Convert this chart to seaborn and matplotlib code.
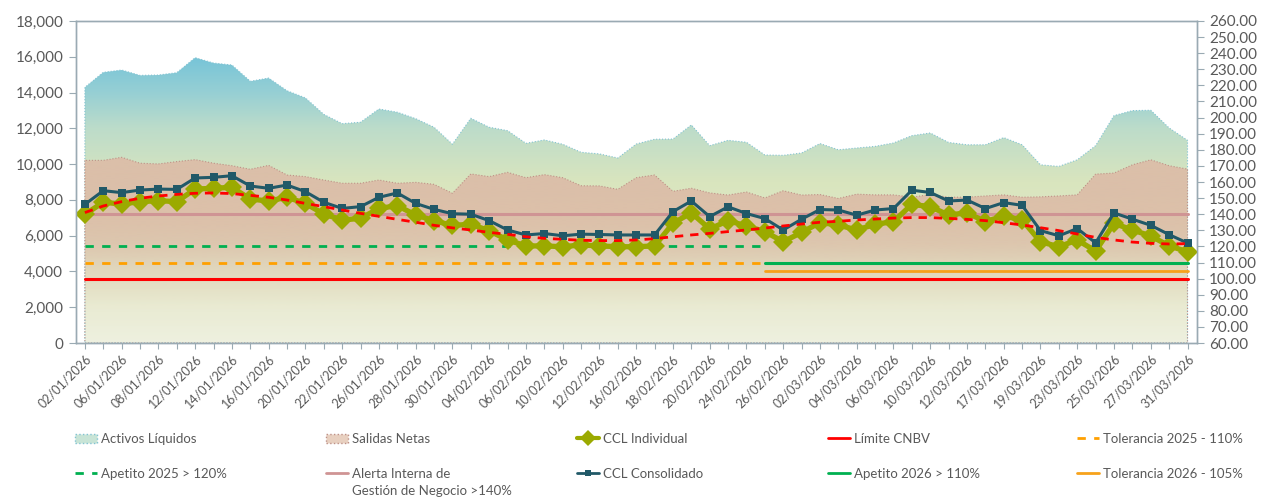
import numpy as np
import pandas as pd
import matplotlib
matplotlib.use("Agg")
import matplotlib.pyplot as plt
import seaborn as sns
from matplotlib.lines import Line2D
from matplotlib.patches import Patch

# ---- datos ----
fechas = [
    "02/01/2026", "05/01/2026", "06/01/2026", "07/01/2026", "08/01/2026", "09/01/2026",
    "12/01/2026", "13/01/2026", "14/01/2026", "15/01/2026", "16/01/2026", "19/01/2026",
    "20/01/2026", "21/01/2026", "22/01/2026", "23/01/2026", "26/01/2026", "27/01/2026",
    "28/01/2026", "29/01/2026", "30/01/2026",
    "03/02/2026", "04/02/2026", "05/02/2026", "06/02/2026", "09/02/2026", "10/02/2026",
    "11/02/2026", "12/02/2026", "13/02/2026", "16/02/2026", "17/02/2026", "18/02/2026",
    "19/02/2026", "20/02/2026", "23/02/2026", "24/02/2026", "25/02/2026", "26/02/2026",
    "27/02/2026",
    "02/03/2026", "03/03/2026", "04/03/2026", "05/03/2026", "06/03/2026", "09/03/2026",
    "10/03/2026", "11/03/2026", "12/03/2026", "13/03/2026", "17/03/2026", "18/03/2026",
    "19/03/2026", "20/03/2026", "23/03/2026", "24/03/2026", "25/03/2026", "26/03/2026",
    "27/03/2026", "30/03/2026", "31/03/2026",
]

activos = [14290, 15130, 15260, 14960, 14980, 15110, 15950, 15650, 15540, 14630,
           14810, 14100, 13700, 12780, 12260, 12340, 13080, 12900, 12540, 12060,
           11110, 12560, 12060, 11870, 11160, 11350, 11110, 10660, 10570, 10340,
           11120, 11390, 11400, 12190, 11030, 11330, 11220, 10510, 10490, 10620,
           11150, 10800, 10900, 10990, 11180, 11590, 11740, 11210, 11080, 11080,
           11480, 11080, 9960, 9870, 10240, 11030, 12710, 12990, 13010, 12020,
           11330]

salidas = [10210, 10210, 10380, 10050, 10010, 10140, 10250, 10050, 9910, 9710,
           9930, 9390, 9300, 9110, 8930, 8930, 9110, 8930, 8980, 8870,
           8370, 9450, 9300, 9540, 9240, 9410, 9240, 8790, 8780, 8590,
           9240, 9390, 8480, 8650, 8390, 8270, 8440, 8110, 8510, 8270,
           8300, 8080, 8320, 8280, 8280, 8150, 8300, 8150, 8150, 8220,
           8280, 8150, 8170, 8220, 8280, 9440, 9500, 9960, 10240, 9910,
           9720]

ccl_individual = [139.9, 147.4, 146.3, 147.8, 148.4, 147.8, 155.6, 156.1, 156.7, 149.4,
                  148.2, 150.5, 146.7, 140.1, 136.4, 137.4, 143.6, 145.3, 139.5, 136.0,
                  133.0, 133.8, 129.7, 124.0, 120.3, 120.3, 119.8, 120.9, 120.3, 119.8,
                  119.8, 120.3, 134.3, 140.9, 130.8, 136.0, 132.7, 129.2, 122.9, 128.7,
                  134.8, 133.3, 130.2, 133.7, 135.4, 146.1, 144.7, 139.5, 140.9, 135.4,
                  138.9, 136.4, 122.9, 119.8, 124.0, 117.1, 134.3, 130.2, 126.5, 120.3,
                  116.7]

ccl_consolidado = [146.1, 154.6, 153.4, 155.0, 155.6, 155.4, 162.5, 162.9, 163.9, 157.5,
                   156.1, 158.1, 154.0, 147.4, 143.6, 144.7, 150.5, 153.2, 146.7, 143.0,
                   140.3, 140.0, 136.0, 130.2, 127.1, 128.0, 126.6, 127.6, 127.4, 127.1,
                   127.1, 127.1, 141.6, 148.2, 138.5, 144.6, 140.4, 137.3, 130.2, 136.9,
                   142.9, 142.6, 139.4, 142.6, 143.5, 154.9, 153.5, 148.2, 148.8, 143.5,
                   147.2, 145.5, 129.8, 126.6, 131.1, 122.2, 140.8, 136.9, 133.1, 127.3,
                   122.1]

# linea de tendencia (polinomica en el original), leida punto a punto
tendencia = [141.0, 145.1, 147.8, 149.9, 151.3, 152.3, 153.0, 153.2, 152.8, 151.7,
             150.5, 148.8, 146.7, 144.7, 142.6, 140.5, 138.7, 136.8, 135.0, 133.1,
             131.5, 130.2, 128.7, 127.5, 126.0, 125.0, 124.4, 123.8, 123.6, 123.6,
             124.0, 124.8, 126.0, 127.1, 128.1, 129.2, 130.2, 131.4, 132.7, 133.9,
             135.0, 135.6, 136.4, 137.0, 137.6, 137.9, 137.9, 137.4, 136.8, 136.0,
             134.7, 133.3, 131.6, 129.8, 127.7, 125.6, 124.0, 122.7, 121.9, 121.5,
             121.7]

limite_cnbv = 100
alerta_interna = 140
apetito_2025 = 120
tolerancia_2025 = 110
apetito_2026 = 110
tolerancia_2026 = 105
inicio_2026 = "25/02/2026"

# ---- estilo ----
sns.set_style("white")
plt.rcParams["font.family"] = ["Lato", "DejaVu Sans"]
texto = "#595959"
eje = "#9aaab3"
oliva = "#9BAA00"
petroleo = "#215968"
rojo = "#FF0000"
verde = "#00B050"
naranja = "#FFA000"
naranja2 = "#F7A21B"
rosa = "#CF9494"

n = len(fechas)
pos = np.arange(n)
corte = fechas.index(inicio_2026)

df = pd.DataFrame({"pos": pos, "fecha": fechas, "activos": activos, "salidas": salidas,
                   "ccl_ind": ccl_individual, "ccl_cons": ccl_consolidado,
                   "tendencia": tendencia})
df["limite"] = limite_cnbv
df["alerta"] = alerta_interna
df["apetito_2025"] = np.where(pos <= corte, apetito_2025, np.nan)
df["tolerancia_2025"] = np.where(pos <= corte, tolerancia_2025, np.nan)
df["apetito_2026"] = np.where(pos >= corte, apetito_2026, np.nan)
df["tolerancia_2026"] = np.where(pos >= corte, tolerancia_2026, np.nan)

fig = plt.figure(figsize=(12.61, 4.98), dpi=100)
ax = fig.add_axes([75.7 / 1261, 1 - 343 / 498, 1121 / 1261, 322 / 498])
ax2 = ax.twinx()


def area_degradada(ax, x, y, paradas, borde, z):
    poly = ax.fill_between(x, 0, y, facecolor="none", edgecolor=borde,
                           linestyle=":", linewidth=0.8, zorder=z + 0.1)
    ys = np.linspace(0, 18000, 500)
    rgba = np.zeros((len(ys), 1, 4))
    niveles = [p[0] for p in paradas]
    for k in range(4):
        rgba[:, 0, k] = np.interp(ys, niveles, [p[1][k] for p in paradas])
    im = ax.imshow(rgba, extent=[x[0] - 0.5, x[-1] + 0.5, 0, 18000], origin="lower",
                   aspect="auto", interpolation="bilinear", zorder=z)
    im.set_clip_path(poly.get_paths()[0], transform=ax.transData)


def c(r, g, b, a=1.0):
    return (r / 255, g / 255, b / 255, a)


area_degradada(ax, pos, df["activos"].values,
               [(0, c(239, 241, 224)), (3000, c(232, 236, 208)), (9000, c(217, 229, 190)),
                (12000, c(188, 220, 202)), (14000, c(150, 207, 212)), (16000, c(118, 196, 216)),
                (18000, c(110, 192, 216))],
               c(130, 195, 210), 1)
area_degradada(ax, pos, df["salidas"].values,
               [(0, c(220, 190, 168, 0)), (2000, c(220, 190, 168, 0.05)),
                (4000, c(220, 190, 168, 0.4)), (5500, c(220, 190, 168, 0.8)),
                (7000, c(220, 190, 168, 0.95)), (18000, c(220, 190, 168, 1))],
               c(190, 145, 135), 2)

# ---- lineas de referencia y CCL (eje derecho) ----
sns.lineplot(data=df, x="pos", y="alerta", ax=ax2, color=rosa, linewidth=2.2)
sns.lineplot(data=df, x="pos", y="limite", ax=ax2, color=rojo, linewidth=2.2)
sns.lineplot(data=df, x="pos", y="apetito_2025", ax=ax2, color=verde, linewidth=2,
             linestyle=(0, (3, 3)))
sns.lineplot(data=df, x="pos", y="tolerancia_2025", ax=ax2, color=naranja, linewidth=2,
             linestyle=(0, (3, 3)))
sns.lineplot(data=df, x="pos", y="apetito_2026", ax=ax2, color=verde, linewidth=2.2)
sns.lineplot(data=df, x="pos", y="tolerancia_2026", ax=ax2, color=naranja2, linewidth=2)
sns.lineplot(data=df, x="pos", y="ccl_ind", ax=ax2, color=oliva, linewidth=3.8,
             marker="D", markersize=10, markeredgewidth=0)
sns.lineplot(data=df, x="pos", y="ccl_cons", ax=ax2, color=petroleo, linewidth=2.2,
             marker="s", markersize=5.5, markeredgewidth=0)
sns.lineplot(data=df, x="pos", y="tendencia", ax=ax2, color=rojo, linewidth=2,
             linestyle=(0, (3, 2.5)))

# ---- ejes ----
ax.set_xlim(-0.5, n - 0.5)
ax.set_ylim(0, 18000)
ax2.set_ylim(60, 260)
ax.set_xlabel("")
ax.set_ylabel("")
ax2.set_xlabel("")
ax2.set_ylabel("")

ax.set_xticks(pos)
ax.set_xticklabels([f if i % 2 == 0 else "" for i, f in enumerate(fechas)],
                   rotation=45, ha="right", rotation_mode="anchor", fontsize=9, color=texto)
ax.set_yticks(np.arange(0, 18001, 2000))
ax.set_yticklabels([f"{v:,.0f}" for v in np.arange(0, 18001, 2000)], fontsize=11, color=texto)
ax2.set_yticks(np.arange(60, 261, 10))
ax2.set_yticklabels([f"{v:.2f}" for v in np.arange(60, 261, 10)], fontsize=11, color=texto)

ax.tick_params(axis="x", bottom=True, length=4, width=0.8, color=eje, pad=3)
ax.tick_params(axis="y", left=True, length=5, width=0.8, color=eje, pad=4)
ax2.tick_params(axis="y", right=True, length=5, width=0.8, color=eje, pad=4)
for a in (ax, ax2):
    for s in a.spines.values():
        s.set_visible(True)
        s.set_color(eje)
        s.set_linewidth(1)

# ---- leyenda en 5 columnas ----
columnas = [
    [(Patch(facecolor=c(200, 228, 214), edgecolor=c(130, 195, 210), linestyle=":"), "Activos Líquidos"),
     (Line2D([], [], color=verde, lw=2, linestyle=(0, (3, 3))), "Apetito 2025 > 120%")],
    [(Patch(facecolor=c(232, 208, 192), edgecolor=c(190, 145, 135), linestyle=":"), "Salidas Netas"),
     (Line2D([], [], color=rosa, lw=2), "Alerta Interna de")],
    [(Line2D([], [], color=oliva, lw=3, marker="D", markersize=8, markeredgewidth=0), "CCL Individual"),
     (Line2D([], [], color=petroleo, lw=2, marker="s", markersize=5, markeredgewidth=0), "CCL Consolidado")],
    [(Line2D([], [], color=rojo, lw=2), "Límite CNBV"),
     (Line2D([], [], color=verde, lw=2), "Apetito 2026 > 110%")],
    [(Line2D([], [], color=naranja, lw=2, linestyle=(0, (3, 3))), "Tolerancia 2025 - 110%"),
     (Line2D([], [], color=naranja2, lw=2), "Tolerancia 2026 - 105%")],
]
col_x = [75, 326, 577, 828, 1077]
leyendas = []
for x0, col in zip(col_x, columnas):
    leg = fig.legend(handles=[h for h, _ in col], labels=[l for _, l in col],
                     loc="upper left", bbox_to_anchor=(x0 / 1261, 1 - 433 / 498),
                     frameon=False, fontsize=9.5, labelcolor=texto, handlelength=1.7,
                     handletextpad=0.3, labelspacing=1.75, borderpad=0, borderaxespad=0)
    leyendas.append(leg)

fig.canvas.draw()
bb = leyendas[1].get_texts()[1].get_window_extent()
fig.text(bb.x0 / fig.bbox.width, (bb.y0 - 17) / fig.bbox.height,
         "Gestión de Negocio >140%", fontsize=9.5, color=texto, ha="left", va="bottom")

fig.savefig("out.png", dpi=100)
